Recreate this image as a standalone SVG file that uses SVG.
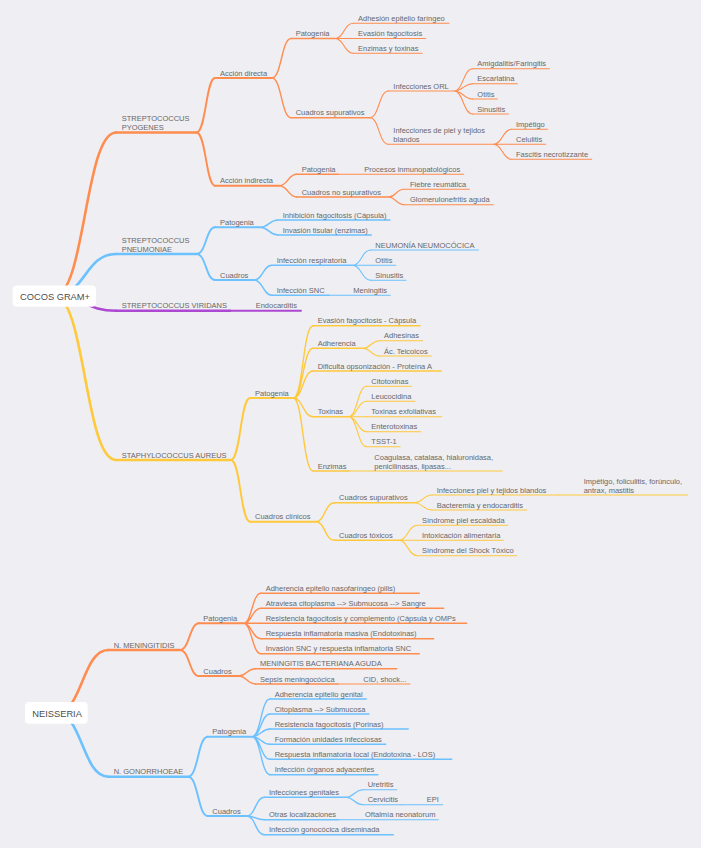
<svg xmlns="http://www.w3.org/2000/svg" width="701" height="848" viewBox="0 0 701 848">
<style>
path{fill:none;stroke-linecap:round}
.o{stroke:#ff8d4f}.b{stroke:#6cc1ff}.p{stroke:#ad48d2}.y{stroke:#ffc93c}
.w1{stroke-width:2.6}.w2{stroke-width:1.9}.w3{stroke-width:1.4}.w4{stroke-width:1.1}
text{stroke:none;fill:#686868;font-family:"Liberation Sans",Arial,sans-serif;font-size:7.5px}
.rt{fill:#4d4d4d;font-size:9.3px}
.box{fill:#ffffff;stroke:none}
</style>
<rect width="701" height="848" fill="#efeef3"/>
<g id="connectors">
<path class="o w1" d="M54.5 296C85 296 85 132.5 116 132.5"/>
<path class="b w1" d="M54.5 296C85 296 85 254 116 254"/>
<path class="p w1" d="M54.5 296C85 296 85 310.7 116 310.7"/>
<path class="y w1" d="M54.5 296C85 296 85 460 116 460"/>
<path class="o w2" d="M196.5 132.5C206 132.5 206 78 215 78M196.5 132.5C206 132.5 206 185.7 215 185.7"/>
<path class="o w3" d="M272 78C281.5 78 281.5 38.5 291 38.5M272 78C281.5 78 281.5 117.7 291 117.7"/>
<path class="o w4" d="M335 38.5C344 38.5 344 23.3 353.3 23.3M335 38.5H353.3M335 38.5C344 38.5 344 53.3 353.3 53.3"/>
<path class="o w4" d="M370 117.7C379 117.7 379 91 388.3 91M370 117.7C379 117.7 379 144.3 388.3 144.3"/>
<path class="o w4" d="M454 91C463.3 91 463.3 68.7 472.7 68.7M454 91C463.3 91 463.3 83.7 472.7 83.7M454 91C463.3 91 463.3 99 472.7 99M454 91C463.3 91 463.3 114 472.7 114"/>
<path class="o w4" d="M493.3 144.3C502.5 144.3 502.5 129.3 511.7 129.3M493.3 144.3H511.7M493.3 144.3C502.5 144.3 502.5 159.3 511.7 159.3"/>
<path class="o w3" d="M279 185.7C288 185.7 288 174.3 296.7 174.3M279 185.7C288 185.7 288 197 296.7 197"/>
<path class="o w4" d="M388.5 197C396 197 396 189.3 404 189.3M388.5 197C396 197 396 204.7 404 204.7"/>
<path class="b w2" d="M196.7 254C206 254 206 227.3 215 227.3M196.7 254C206 254 206 280 215 280"/>
<path class="b w3" d="M260 227.3C269 227.3 269 220 278 220M260 227.3C269 227.3 269 235 278 235"/>
<path class="b w3" d="M254 280C263 280 263 265.3 272 265.3M254 280C263 280 263 295.3 272 295.3"/>
<path class="b w4" d="M352.3 265.3C361.6 265.3 361.6 250 371 250M352.3 265.3H371M352.3 265.3C361.6 265.3 361.6 280.3 371 280.3"/>
<path class="y w2" d="M231 460C240.5 460 240.5 398 250 398M231 460C240.5 460 240.5 521.7 250 521.7"/>
<path class="y w3" d="M293.3 398C303 398 303 325.7 313 325.7M293.3 398C303 398 303 348.3 313 348.3M293.3 398C303 398 303 371 313 371M293.3 398C303 398 303 416.7 313 416.7M293.3 398C303 398 303 471 313 471"/>
<path class="y w4" d="M362.7 348.3C371 348.3 371 340.7 379.3 340.7M362.7 348.3C371 348.3 371 356 379.3 356"/>
<path class="y w4" d="M348.3 416.7C357.5 416.7 357.5 386.3 366.7 386.3M348.3 416.7C357.5 416.7 357.5 401.3 366.7 401.3M348.3 416.7H366.7M348.3 416.7C357.5 416.7 357.5 431.7 366.7 431.7M348.3 416.7C357.5 416.7 357.5 446.7 366.7 446.7"/>
<path class="y w3" d="M316 521.7C325 521.7 325 502.7 334.3 502.7M316 521.7C325 521.7 325 540.3 334.3 540.3"/>
<path class="y w4" d="M414.3 502.7C423 502.7 423 495 432 495M414.3 502.7C423 502.7 423 510 432 510"/>
<path class="y w4" d="M398.3 540.3C408 540.3 408 525.3 417.3 525.3M398.3 540.3H417.3M398.3 540.3C408 540.3 408 555.7 417.3 555.7"/>
<path class="o w1" d="M56.3 713C82.3 713 82.3 650 108.3 650"/>
<path class="b w1" d="M56.3 713C82.3 713 82.3 776.7 108.3 776.7"/>
<path class="o w2" d="M180 650C189.5 650 189.5 623.3 199 623.3M180 650C189.5 650 189.5 676 199 676"/>
<path class="o w3" d="M243.3 623.3C252 623.3 252 593.3 261 593.3M243.3 623.3C252 623.3 252 608.3 261 608.3M243.3 623.3H261M243.3 623.3C252 623.3 252 638.7 261 638.7M243.3 623.3C252 623.3 252 653.7 261 653.7"/>
<path class="o w3" d="M238.3 676C247 676 247 668.7 255.3 668.7M238.3 676C247 676 247 684 255.3 684"/>
<path class="b w2" d="M188.3 776.7C198 776.7 198 736.7 207.7 736.7M188.3 776.7C198 776.7 198 816 207.7 816"/>
<path class="b w3" d="M251.7 736.7C261 736.7 261 699 270 699M251.7 736.7C261 736.7 261 714 270 714M251.7 736.7C261 736.7 261 729 270 729M251.7 736.7C261 736.7 261 744.3 270 744.3M251.7 736.7C261 736.7 261 759.3 270 759.3M251.7 736.7C261 736.7 261 774.7 270 774.7"/>
<path class="b w3" d="M246.7 816C255.5 816 255.5 797.3 264.3 797.3M246.7 816C255.5 816 255.5 819.7 264.3 819.7M246.7 816C255.5 816 255.5 834.7 264.3 834.7"/>
<path class="b w4" d="M345.7 797.3C354.3 797.3 354.3 789.7 363 789.7M345.7 797.3C354.3 797.3 354.3 804.7 363 804.7"/>
</g>
<g id="root-cocos"><rect class="box" x="12.7" y="285.5" width="83.3" height="21.3" rx="4"/><text class="rt" x="20" y="300">COCOS GRAM+</text></g>
<g id="root-neisseria"><rect class="box" x="25" y="702" width="62.7" height="21.7" rx="4"/><text class="rt" x="32.3" y="716.6">NEISSERIA</text></g>
<g id="s-pyogenes" class="o w1"><path d="M116 132.5H196.5"/><text x="121.7" y="120.8">STREPTOCOCCUS</text><text x="121.7" y="129.8">PYOGENES</text></g>
<g id="pyo-directa" class="o w2"><path d="M215 78H272"/><text x="220" y="75.5">Acción directa</text></g>
<g id="pyo-d-patogenia" class="o w3"><path d="M291 38.5H335"/><text x="295.7" y="36">Patogenia</text></g>
<g id="pyo-adhesion" class="o w4"><path d="M353.3 23.3H449"/><text x="358" y="20.8">Adhesión epitelio faríngeo</text></g>
<g id="pyo-evasion" class="o w4"><path d="M353.3 38.5H425.7"/><text x="358" y="36">Evasión fagocitosis</text></g>
<g id="pyo-enzimas" class="o w4"><path d="M353.3 53.3H422"/><text x="358" y="50.8">Enzimas y toxinas</text></g>
<g id="pyo-supurativos" class="o w3"><path d="M291 117.7H370"/><text x="295.7" y="115.2">Cuadros supurativos</text></g>
<g id="pyo-orl" class="o w4"><path d="M388.3 91H454"/><text x="393.3" y="88.5">Infecciones ORL</text></g>
<g id="pyo-amigdalitis" class="o w4"><path d="M472.7 68.7H549.3"/><text x="477.3" y="66.2">Amigdalitis/Faringitis</text></g>
<g id="pyo-escarlatina" class="o w4"><path d="M472.7 83.7H517.3"/><text x="477.3" y="81.2">Escarlatina</text></g>
<g id="pyo-otitis" class="o w4"><path d="M472.7 99H497.3"/><text x="477.3" y="96.5">Otitis</text></g>
<g id="pyo-sinusitis" class="o w4"><path d="M472.7 114H508.3"/><text x="477.3" y="111.5">Sinusitis</text></g>
<g id="pyo-piel" class="o w4"><path d="M388.3 144.3H493.3"/><text x="393.3" y="132.8">Infecciones de piel y tejidos</text><text x="393.3" y="141.8">blandos</text></g>
<g id="pyo-impetigo" class="o w4"><path d="M511.7 129.3H547.7"/><text x="516" y="126.8">Impétigo</text></g>
<g id="pyo-celulitis" class="o w4"><path d="M511.7 144.3H545.7"/><text x="516" y="141.8">Celulitis</text></g>
<g id="pyo-fascitis" class="o w4"><path d="M511.7 159.3H591.7"/><text x="516" y="156.8">Fascitis necrotizzante</text></g>
<g id="pyo-indirecta" class="o w2"><path d="M215 185.7H279"/><text x="220" y="183.2">Acción indirecta</text></g>
<g id="pyo-i-patogenia" class="o w3"><path d="M296.7 174.3H338.3"/><text x="301.7" y="171.8">Patogenia</text></g>
<g id="pyo-procesos" class="o w4"><path d="M338.3 174.3H463.7"/><text x="364.3" y="171.8">Procesos inmunopatológicos</text></g>
<g id="pyo-nosupurativos" class="o w3"><path d="M296.7 197H388.5"/><text x="301.7" y="194.5">Cuadros no supurativos</text></g>
<g id="pyo-fiebre" class="o w4"><path d="M404 189.3H469.3"/><text x="410" y="186.8">Fiebre reumática</text></g>
<g id="pyo-glomerulo" class="o w4"><path d="M404 204.7H493.3"/><text x="410" y="202.2">Glomerulonefritis aguda</text></g>
<g id="s-pneumoniae" class="b w1"><path d="M116 254H196.7"/><text x="121.7" y="242.5">STREPTOCOCCUS</text><text x="121.7" y="251.5">PNEUMONIAE</text></g>
<g id="pn-patogenia" class="b w2"><path d="M215 227.3H260"/><text x="220" y="224.8">Patogenia</text></g>
<g id="pn-inhibicion" class="b w3"><path d="M278 220H390"/><text x="282.7" y="217.5">Inhibición fagocitosis (Cápsula)</text></g>
<g id="pn-invasion" class="b w3"><path d="M278 235H371.3"/><text x="282.7" y="232.5">Invasión tisular (enzimas)</text></g>
<g id="pn-cuadros" class="b w2"><path d="M215 280H254"/><text x="220" y="277.5">Cuadros</text></g>
<g id="pn-respiratoria" class="b w3"><path d="M272 265.3H352.3"/><text x="276.7" y="262.8">Infección respiratoria</text></g>
<g id="pn-neumonia" class="b w4"><path d="M371 250H478.3"/><text x="375.3" y="247.5">NEUMONÍA NEUMOCÓCICA</text></g>
<g id="pn-otitis" class="b w4"><path d="M371 265.3H395.7"/><text x="375.3" y="262.8">Otitis</text></g>
<g id="pn-sinusitis" class="b w4"><path d="M371 280.3H406"/><text x="375.3" y="277.8">Sinusitis</text></g>
<g id="pn-snc" class="b w3"><path d="M272 295.3H329"/><text x="276.7" y="292.8">Infección SNC</text></g>
<g id="pn-meningitis" class="b w4"><path d="M329 295.3H390.3"/><text x="353.3" y="292.8">Meningitis</text></g>
<g id="s-viridans" class="p w1"><path d="M116 310.7H230"/><text x="121.7" y="308.2">STREPTOCOCCUS VIRIDANS</text></g>
<g id="vir-endocarditis" class="p w2"><path d="M230 310.7H301"/><text x="255.7" y="308.2">Endocarditis</text></g>
<g id="s-aureus" class="y w1"><path d="M116 460H231"/><text x="121.7" y="457.5">STAPHYLOCOCCUS AUREUS</text></g>
<g id="sa-patogenia" class="y w2"><path d="M250 398H293.3"/><text x="255" y="395.5">Patogenia</text></g>
<g id="sa-evasion" class="y w3"><path d="M313 325.7H420"/><text x="317.7" y="323.2">Evasión fagocitosis - Cápsula</text></g>
<g id="sa-adherencia" class="y w3"><path d="M313 348.3H362.7"/><text x="317.7" y="345.8">Adherencia</text></g>
<g id="sa-adhesinas" class="y w4"><path d="M379.3 340.7H422.7"/><text x="384" y="338.2">Adhesinas</text></g>
<g id="sa-teicoicos" class="y w4"><path d="M379.3 356H431.3"/><text x="384" y="353.5">Ác. Teicoicos</text></g>
<g id="sa-opsonizacion" class="y w3"><path d="M313 371H441.3"/><text x="317.7" y="368.5">Dificulta opsonización - Proteína A</text></g>
<g id="sa-toxinas" class="y w3"><path d="M313 416.7H348.3"/><text x="317.7" y="414.2">Toxinas</text></g>
<g id="sa-citotoxinas" class="y w4"><path d="M366.7 386.3H411.7"/><text x="371.3" y="383.8">Citotoxinas</text></g>
<g id="sa-leucocidina" class="y w4"><path d="M366.7 401.3H415"/><text x="371.3" y="398.8">Leucocidina</text></g>
<g id="sa-exfoliativas" class="y w4"><path d="M366.7 416.7H441.7"/><text x="371.3" y="414.2">Toxinas exfoliativas</text></g>
<g id="sa-enterotoxinas" class="y w4"><path d="M366.7 431.7H420.7"/><text x="371.3" y="429.2">Enterotoxinas</text></g>
<g id="sa-tsst" class="y w4"><path d="M366.7 446.7H400"/><text x="371.3" y="444.2">TSST-1</text></g>
<g id="sa-enzimas" class="y w3"><path d="M313 471H349"/><text x="317.7" y="468.5">Enzimas</text></g>
<g id="sa-coagulasa" class="y w4"><path d="M349 471H502.3"/><text x="374.3" y="459.5">Coagulasa, catalasa, hialuronidasa,</text><text x="374.3" y="468.5">penicilinasas, lipasas...</text></g>
<g id="sa-clinicos" class="y w2"><path d="M250 521.7H316"/><text x="255" y="519.2">Cuadros clínicos</text></g>
<g id="sa-supurativos" class="y w3"><path d="M334.3 502.7H414.3"/><text x="339" y="500.2">Cuadros supurativos</text></g>
<g id="sa-piel" class="y w4"><path d="M432 495H558"/><text x="436.7" y="492.5">Infecciones piel y tejidos blandos</text></g>
<g id="sa-impetigo" class="y w4"><path d="M558 495H687.7"/><text x="583.7" y="483.5">Impétigo, foliculitis, forúnculo,</text><text x="583.7" y="492.5">antrax, mastitis</text></g>
<g id="sa-bacteremia" class="y w4"><path d="M432 510H526.7"/><text x="436.7" y="507.5">Bacteremia y endocarditis</text></g>
<g id="sa-toxicos" class="y w3"><path d="M334.3 540.3H398.3"/><text x="339" y="537.8">Cuadros tóxicos</text></g>
<g id="sa-escaldada" class="y w4"><path d="M417.3 525.3H507.7"/><text x="422" y="522.8">Síndrome piel escaldada</text></g>
<g id="sa-intoxicacion" class="y w4"><path d="M417.3 540.3H503.3"/><text x="422" y="537.8">Intoxicación alimentaria</text></g>
<g id="sa-shock" class="y w4"><path d="M417.3 555.7H516.7"/><text x="422" y="553.2">Síndrome del Shock Tóxico</text></g>
<g id="n-meningitidis" class="o w1"><path d="M108.3 650H180"/><text x="113.7" y="647.5">N. MENINGITIDIS</text></g>
<g id="nm-patogenia" class="o w2"><path d="M199 623.3H243.3"/><text x="203.3" y="620.8">Patogenia</text></g>
<g id="nm-adherencia" class="o w3"><path d="M261 593.3H419.3"/><text x="265.7" y="590.8">Adherencia epitelio nasofaríngeo (pilis)</text></g>
<g id="nm-atraviesa" class="o w3"><path d="M261 608.3H443.7"/><text x="265.7" y="605.8">Atraviesa citoplasma --&gt; Submucosa --&gt; Sangre</text></g>
<g id="nm-resistencia" class="o w3"><path d="M261 623.3H466.7"/><text x="265.7" y="620.8">Resistencia fagocitosis y complemento (Cápsula y OMPs</text></g>
<g id="nm-respuesta" class="o w3"><path d="M261 638.7H433.7"/><text x="265.7" y="636.2">Respuesta inflamatoria masiva (Endotoxinas)</text></g>
<g id="nm-invasion" class="o w3"><path d="M261 653.7H419.3"/><text x="265.7" y="651.2">Invasión SNC y respuesta inflamatoria SNC</text></g>
<g id="nm-cuadros" class="o w2"><path d="M199 676H238.3"/><text x="203.3" y="673.5">Cuadros</text></g>
<g id="nm-bacteriana" class="o w3"><path d="M255.3 668.7H396.7"/><text x="260" y="666.2">MENINGITIS BACTERIANA AGUDA</text></g>
<g id="nm-sepsis" class="o w3"><path d="M255.3 684H338"/><text x="260" y="681.5">Sepsis meningocócica</text></g>
<g id="nm-cid" class="o w4"><path d="M338 684H410"/><text x="363.3" y="681.5">CID, shock...</text></g>
<g id="n-gonorrhoeae" class="b w1"><path d="M108.3 776.7H188.3"/><text x="113.7" y="774.2">N. GONORRHOEAE</text></g>
<g id="ng-patogenia" class="b w2"><path d="M207.7 736.7H251.7"/><text x="212.3" y="734.2">Patogenia</text></g>
<g id="ng-adherencia" class="b w3"><path d="M270 699H366.3"/><text x="274.7" y="696.5">Adherencia epitelio genital</text></g>
<g id="ng-citoplasma" class="b w3"><path d="M270 714H369"/><text x="274.7" y="711.5">Citoplasma --&gt; Submucosa</text></g>
<g id="ng-resistencia" class="b w3"><path d="M270 729H408.3"/><text x="274.7" y="726.5">Resistencia fagocitosis (Porinas)</text></g>
<g id="ng-formacion" class="b w3"><path d="M270 744.3H385.7"/><text x="274.7" y="741.8">Formación unidades infecciosas</text></g>
<g id="ng-respuesta" class="b w3"><path d="M270 759.3H451.7"/><text x="274.7" y="756.8">Respuesta inflamatoria local (Endotoxina - LOS)</text></g>
<g id="ng-organos" class="b w3"><path d="M270 774.7H378"/><text x="274.7" y="772.2">Infección órganos adyacentes</text></g>
<g id="ng-cuadros" class="b w2"><path d="M207.7 816H246.7"/><text x="212.3" y="813.5">Cuadros</text></g>
<g id="ng-genitales" class="b w3"><path d="M264.3 797.3H345.7"/><text x="269" y="794.8">Infecciones genitales</text></g>
<g id="ng-uretritis" class="b w4"><path d="M363 789.7H396.7"/><text x="367.7" y="787.2">Uretritis</text></g>
<g id="ng-cervicitis" class="b w4"><path d="M363 804.7H401.7"/><text x="367.7" y="802.2">Cervicitis</text></g>
<g id="ng-epi" class="b w4"><path d="M401.7 804.7H442.7"/><text x="426.7" y="802.2">EPI</text></g>
<g id="ng-otras" class="b w3"><path d="M264.3 819.7H338.3"/><text x="269" y="817.2">Otras localizaciones</text></g>
<g id="ng-oftalmia" class="b w4"><path d="M338.3 819.7H438.3"/><text x="365" y="817.2">Oftalmía neonatorum</text></g>
<g id="ng-diseminada" class="b w3"><path d="M264.3 834.7H393.3"/><text x="269" y="832.2">Infección gonocócica diseminada</text></g>
</svg>
